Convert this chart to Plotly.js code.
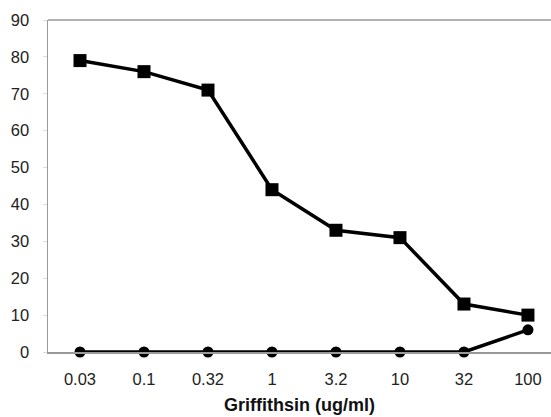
<!DOCTYPE html>
<html>
<head>
<meta charset="utf-8">
<script src="https://cdn.plot.ly/plotly-3.0.1.min.js"></script>
<style>html,body{margin:0;padding:0;background:#fff;}#chart{width:551px;height:417px;}</style>
</head>
<body>
<div id="chart"></div>
<script>
const concentrations = ["0.03", "0.1", "0.32", "1", "3.2", "10", "32", "100"];
const squareSeries = [79, 76, 71, 44, 33, 31, 13, 10];
const circleSeries = [0, 0, 0, 0, 0, 0, 0, 6];
const yTicks = [0, 10, 20, 30, 40, 50, 60, 70, 80, 90];

const traces = [
  {
    x: concentrations, y: circleSeries, type: 'scatter', mode: 'lines+markers',
    line: {color: '#000', width: 3.5},
    marker: {symbol: 'circle', size: 11, color: '#000'},
    cliponaxis: false, showlegend: false
  },
  {
    x: concentrations, y: squareSeries, type: 'scatter', mode: 'lines+markers',
    line: {color: '#000', width: 3.5},
    marker: {symbol: 'square', size: 13, color: '#000'},
    cliponaxis: false, showlegend: false
  }
];

const layout = {
  width: 551, height: 417,
  margin: {l: 48, r: 0, t: 20, b: 65},
  paper_bgcolor: '#fff', plot_bgcolor: '#fff',
  font: {family: '"Liberation Sans", Arial, sans-serif', color: '#222', size: 16},
  xaxis: {
    type: 'category', range: [-0.5, 7.36],
    showline: true, linecolor: '#999', linewidth: 1.5, mirror: false,
    showgrid: false, zeroline: false, ticks: '',
    ticklabelstandoff: 12,
    tickfont: {size: 16.5, color: '#222'},
    title: {text: '<b>Griffithsin (ug/ml)</b>', font: {size: 18, color: '#111'}, standoff: 11}
  },
  yaxis: {
    range: [0, 90], tickvals: yTicks, ticktext: yTicks.map(String),
    showline: true, linecolor: '#999', linewidth: 1.5,
    showgrid: false, zeroline: false,
    ticks: 'outside', ticklen: 4, tickcolor: '#ddd',
    ticklabelstandoff: 10,
    tickfont: {size: 16.5, color: '#222'}
  },
  shapes: [{
    type: 'line', xref: 'paper', yref: 'paper', x0: 0, x1: 1, y0: 1, y1: 1,
    line: {color: '#999', width: 1.5}, layer: 'below'
  }]
};

Plotly.newPlot('chart', traces, layout, {displayModeBar: false, staticPlot: true});
</script>
</body>
</html>
